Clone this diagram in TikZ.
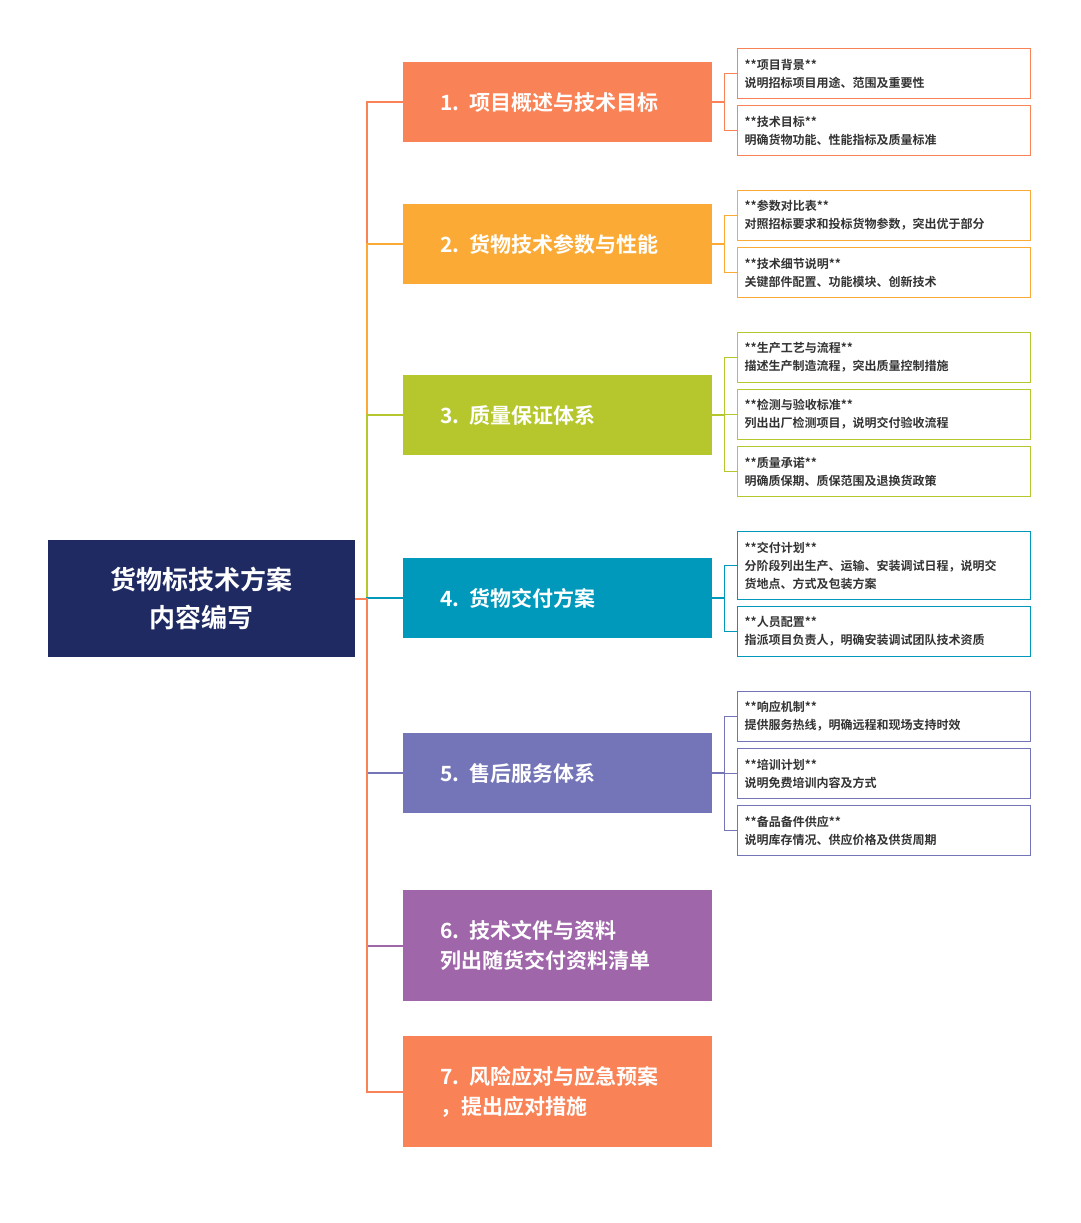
\documentclass[tikz,border=0pt]{standalone}
\usepackage{fontspec}
\setmainfont{Noto Sans CJK SC}
\newfontfamily\cjkb{Noto Sans CJK SC Bold}
\definecolor{cA}{HTML}{F98357}
\definecolor{cB}{HTML}{FBAA35}
\definecolor{cC}{HTML}{B5C72C}
\definecolor{cD}{HTML}{0099BB}
\definecolor{cE}{HTML}{7474B8}
\definecolor{cF}{HTML}{A066AA}
\definecolor{navy}{HTML}{1F2A63}
\definecolor{ltxt}{HTML}{333333}
\begin{document}
\begin{tikzpicture}[x=1pt,y=-1pt,
  rootbox/.style={fill=navy,text=white,font=\cjkb\fontsize{26}{38}\selectfont,align=center,minimum width=307pt,minimum height=117pt,anchor=north west,inner sep=0pt},
  childbox/.style={fill=#1,text=white,font=\cjkb\fontsize{21}{30}\selectfont,align=left,text width=235pt,minimum height=80pt,anchor=north west,inner xsep=37pt,inner ysep=0pt},
  leafbox/.style={draw=#1,line width=1.3pt,fill=white,text=ltxt,font=\cjkb\fontsize{12}{18}\selectfont,align=left,text width=279pt,minimum height=50pt,anchor=north west,inner xsep=7pt,inner ysep=2pt},
  edge/.style={draw=#1,line width=2pt},
  ledge/.style={draw=#1,line width=1.5pt}]
\useasboundingbox (0,0) rectangle (1080,1223);
\node[rootbox] (root) at (48,540) {货物标技术方案\\内容编写};
\node[childbox=cA] (c1) at (403,62) {1. 项目概述与技术目标};
\node[childbox=cB] (c2) at (403,204) {2. 货物技术参数与性能};
\node[childbox=cC] (c3) at (403,375) {3. 质量保证体系};
\node[childbox=cD] (c4) at (403,558) {4. 货物交付方案};
\node[childbox=cE] (c5) at (403,733) {5. 售后服务体系};
\node[childbox=cF,minimum height=111pt] (c6) at (403,890) {6. 技术文件与资料\\列出随货交付资料清单};
\node[childbox=cA,minimum height=111pt] (c7) at (403,1036) {7. 风险应对与应急预案\\，提出应对措施};
\foreach \c/\col in {c1/cA,c2/cB,c3/cC,c4/cD,c5/cE,c6/cF,c7/cA}
  \draw[edge=\col] (root.east) -- ++(12,0) |- (\c.west);
\node[leafbox=cA] (l1a) at (737,48) {**项目背景**\\说明招标项目用途、范围及重要性};
\node[leafbox=cA] (l1b) at (737,105) {**技术目标**\\明确货物功能、性能指标及质量标准};
\node[leafbox=cB] (l2a) at (737,190) {**参数对比表**\\对照招标要求和投标货物参数，突出优于部分};
\node[leafbox=cB] (l2b) at (737,247) {**技术细节说明**\\关键部件配置、功能模块、创新技术};
\node[leafbox=cC] (l3a) at (737,332) {**生产工艺与流程**\\描述生产制造流程，突出质量控制措施};
\node[leafbox=cC] (l3b) at (737,389) {**检测与验收标准**\\列出出厂检测项目，说明交付验收流程};
\node[leafbox=cC] (l3c) at (737,446) {**质量承诺**\\明确质保期、质保范围及退换货政策};
\node[leafbox=cD,minimum height=68pt] (l4a) at (737,531) {**交付计划**\\分阶段列出生产、运输、安装调试日程，说明交\\货地点、方式及包装方案};
\node[leafbox=cD] (l4b) at (737,606) {**人员配置**\\指派项目负责人，明确安装调试团队技术资质};
\node[leafbox=cE] (l5a) at (737,691) {**响应机制**\\提供服务热线，明确远程和现场支持时效};
\node[leafbox=cE] (l5b) at (737,748) {**培训计划**\\说明免费培训内容及方式};
\node[leafbox=cE] (l5c) at (737,805) {**备品备件供应**\\说明库存情况、供应价格及供货周期};
\foreach \p/\l/\col in {c1/l1a/cA,c1/l1b/cA,c2/l2a/cB,c2/l2b/cB,c3/l3a/cC,c3/l3b/cC,c3/l3c/cC,c4/l4a/cD,c4/l4b/cD,c5/l5a/cE,c5/l5b/cE,c5/l5c/cE}
  \draw[ledge=\col] (\p.east) -- ++(12,0) |- (\l.west);
\end{tikzpicture}
\end{document}
